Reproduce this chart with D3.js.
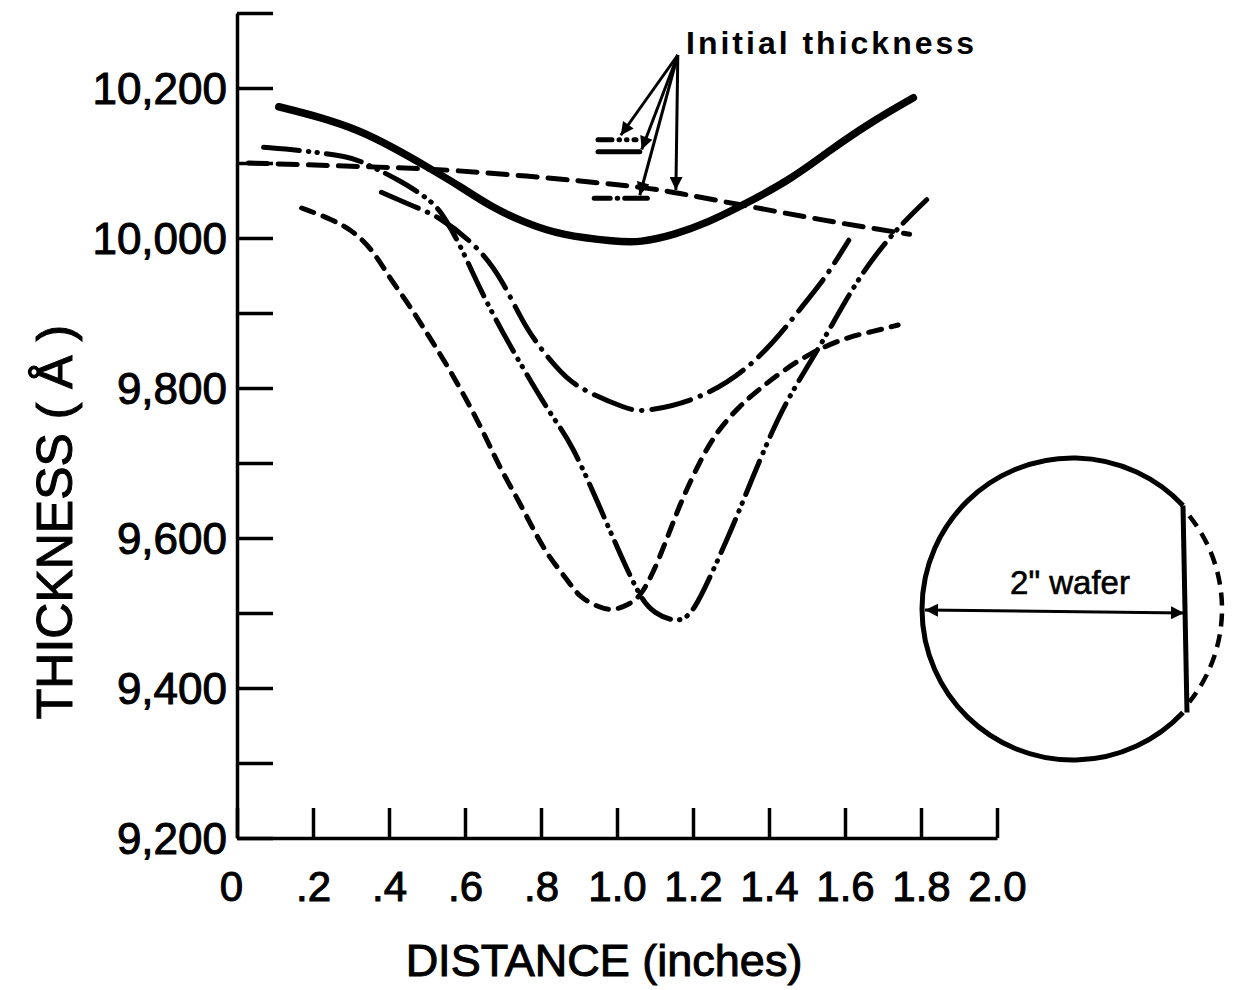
<!DOCTYPE html>
<html>
<head>
<meta charset="utf-8">
<script src="https://cdn.jsdelivr.net/npm/d3@7"></script>
<style>
  body { margin: 0; background: #fff; }
  svg { display: block; font-family: "Liberation Sans", Arial, sans-serif; }
</style>
</head>
<body>
<div id="chart"></div>
<script>
// [distance (inches), thickness (Å)]
var solidCurve = [[0.11,10175],[0.22,10161],[0.32,10144],[0.41,10121],[0.50,10095],[0.59,10068],
  [0.67,10041],[0.76,10020],[0.85,10004],[1.00,9995],[1.06,9994],[1.15,10004],[1.24,10021],
  [1.32,10041],[1.455,10077],[1.56,10117],[1.67,10155],[1.78,10187]];
var longDashCurve = [[0.03,10100],[0.41,10094],[0.56,10091],[0.85,10079],[1.08,10067],[1.16,10060],
  [1.37,10040],[1.54,10024],[1.67,10013],[1.77,10005]];
var dashCurve = [[0.17,10040],[0.25,10025],[0.31,10008],[0.36,9982],[0.40,9948],[0.45,9913],
  [0.49,9881],[0.54,9841],[0.595,9793],[0.65,9740],[0.69,9695],[0.74,9651],[0.78,9611],
  [0.82,9575],[0.87,9544],[0.90,9521],[0.955,9507],[0.99,9503],[1.03,9511],[1.06,9521],
  [1.095,9553],[1.13,9597],[1.17,9651],[1.22,9704],[1.26,9740],[1.32,9775],[1.38,9801],
  [1.44,9824],[1.51,9847],[1.60,9867],[1.67,9875],[1.74,9884]];
var dashDotCurve = [[0.38,10061],[0.47,10041],[0.53,10029],[0.63,9991],[0.70,9944],[0.76,9877],
  [0.845,9824],[0.895,9800],[1.03,9771],[1.07,9768],[1.22,9784],[1.37,9833],[1.50,9917],
  [1.55,9948],[1.61,9997]];
var dashDotDotCurve = [[0.07,10121],[0.17,10117],[0.30,10108],[0.33,10101],[0.43,10077],
  [0.52,10047],[0.55,10024],[0.59,9988],[0.64,9931],[0.70,9873],[0.76,9820],[0.83,9761],
  [0.88,9727],[0.955,9641],[1.00,9588],[1.06,9521],[1.095,9500],[1.16,9486],[1.20,9500],
  [1.245,9548],[1.305,9615],[1.375,9704],[1.445,9784],[1.535,9855],[1.63,9944],[1.725,10007],
  [1.815,10051]];

// initial thickness marks: [x start, x end, thickness]
var initialDashDotDot = [0.95, 1.05, 10131];
var initialSolid = [0.95, 1.06, 10115];
var initialDashDot = [0.94, 1.08, 10053];
// arrow from the label to each mark: [x, thickness]
var arrowFrom = [1.16, 10244];
var arrowTips = [[1.01, 10137], [1.065, 10118], [1.06, 10057], [1.155, 10064]];

var yTicks = d3.range(9200, 10301, 100);
var xTicks = [0, 0.2, 0.4, 0.6, 0.8, 1.0, 1.2, 1.4, 1.6, 1.8, 2.0];

var svg = d3.select("#chart").append("svg")
    .attr("width", 1240)
    .attr("height", 990);

var x = d3.scaleLinear().domain([0, 2]).range([237, 997]);
var y = d3.scaleLinear().domain([9200, 10300]).range([838, 13]);

var defs = svg.append("defs");
defs.append("marker")
    .attr("id", "head")
    .attr("viewBox", "0 -5 10 10")
    .attr("refX", 10).attr("refY", 0)
    .attr("markerWidth", 20).attr("markerHeight", 13)
    .attr("markerUnits", "userSpaceOnUse")
    .attr("orient", "auto-start-reverse")
  .append("path")
    .attr("d", "M0,-5L10,0L0,5Z")
    .attr("fill", "#000");

// axes
var yAxis = d3.axisLeft(y)
    .tickValues(yTicks)
    .tickSize(-36)
    .tickSizeOuter(0)
    .tickPadding(10)
    .tickFormat(function (d) { return d % 200 === 0 ? d3.format(",")(d) : ""; });

var gy = svg.append("g")
    .attr("transform", "translate(237,0)")
    .call(yAxis);

var xAxis = d3.axisBottom(x)
    .tickValues(xTicks)
    .tickSize(-30)
    .tickSizeOuter(0)
    .tickPadding(33)
    .tickFormat(function (d) {
      if (d === 0) return "0";
      if (d < 1) return d3.format(".1f")(d).slice(1);
      return d3.format(".1f")(d);
    });

var gx = svg.append("g")
    .attr("transform", "translate(0,838)")
    .call(xAxis);

[gx, gy].forEach(function (g) {
  g.attr("font-family", null).attr("font-size", null);
  g.select(".domain").attr("stroke-width", 3.5);
  g.selectAll(".tick line").attr("stroke-width", 3.5);
  g.selectAll("text").attr("fill", "#000").attr("stroke", "#000").attr("stroke-width", 1);
});
gy.selectAll("text").style("font-size", "44px").attr("dy", "0.36em");
gx.selectAll("text").style("font-size", "42px");
gx.selectAll(".tick").filter(function (d) { return d === 0; }).select("text").attr("x", -6);

// axis titles
svg.append("text")
    .attr("transform", "translate(72,522) rotate(-90)")
    .attr("text-anchor", "middle")
    .attr("stroke", "#000").attr("stroke-width", 1)
    .style("font-size", "50px")
    .text("THICKNESS ( Å )");

svg.append("text")
    .attr("x", 604)
    .attr("y", 976)
    .attr("text-anchor", "middle")
    .attr("stroke", "#000").attr("stroke-width", 1)
    .style("font-size", "45px")
    .text("DISTANCE (inches)");

// curves
var line = d3.line()
    .x(function (d) { return x(d[0]); })
    .y(function (d) { return y(d[1]); })
    .curve(d3.curveBasis);

function drawCurve(data, width, dash) {
  svg.append("path")
      .datum(data)
      .attr("d", line)
      .attr("fill", "none")
      .attr("stroke", "#000")
      .attr("stroke-width", width)
      .attr("stroke-linecap", "round")
      .attr("stroke-dasharray", dash);
}

drawCurve(longDashCurve, 5, "19,11");
drawCurve(dashCurve, 5, "13,10");
drawCurve(dashDotCurve, 5, "40,10,0.5,10");
drawCurve(dashDotDotCurve, 5, "36,9,0.5,8,0.5,9");
drawCurve(solidCurve, 7.5, null);

// initial thickness marks
function drawMark(m, dash) {
  svg.append("line")
      .attr("x1", x(m[0])).attr("x2", x(m[1]))
      .attr("y1", y(m[2])).attr("y2", y(m[2]))
      .attr("stroke", "#000")
      .attr("stroke-width", 5)
      .attr("stroke-linecap", "round")
      .attr("stroke-dasharray", dash);
}
drawMark(initialDashDotDot, "14,7,0.5,7,0.5,7,20");
drawMark(initialSolid, null);
drawMark(initialDashDot, "16,7,0.5,7,30");

svg.append("g")
  .selectAll("line")
  .data(arrowTips)
  .enter()
  .append("line")
    .attr("x1", x(arrowFrom[0]))
    .attr("y1", y(arrowFrom[1]))
    .attr("x2", function (d) { return x(d[0]); })
    .attr("y2", function (d) { return y(d[1]); })
    .attr("stroke", "#000")
    .attr("stroke-width", 3)
    .attr("marker-end", "url(#head)");

svg.append("text")
    .attr("x", 686)
    .attr("y", 54)
    .style("font-size", "32px")
    .style("font-weight", "bold")
    .style("letter-spacing", "3px")
    .text("Initial thickness");

// wafer inset (flat cut on the right, removed part dashed)
var cx = 1073, cy = 609, r = 151;
var cut = Math.acos(110 / r); // half-angle of the chord seen from the centre
var inset = svg.append("g").attr("transform", "translate(" + cx + "," + cy + ")");

var big = d3.path();
big.arc(0, 0, r, cut, 2 * Math.PI - cut, false);
inset.append("path")
    .attr("d", big.toString())
    .attr("fill", "none")
    .attr("stroke", "#000")
    .attr("stroke-width", 5);

var small = d3.path();
small.arc(0, 0, r - 2, -cut + 0.08, cut - 0.08, false);
inset.append("path")
    .attr("d", small.toString())
    .attr("fill", "none")
    .attr("stroke", "#000")
    .attr("stroke-width", 4.5)
    .attr("stroke-dasharray", "13,8");

var chordY = Math.sqrt(r * r - 110 * 110);
inset.append("line")
    .attr("x1", 110).attr("y1", -chordY)
    .attr("x2", 114).attr("y2", chordY)
    .attr("stroke", "#000")
    .attr("stroke-width", 5);

inset.append("line")
    .attr("x1", -r + 3).attr("y1", 1)
    .attr("x2", 111).attr("y2", 4)
    .attr("stroke", "#000")
    .attr("stroke-width", 3)
    .attr("marker-start", "url(#head)")
    .attr("marker-end", "url(#head)");

inset.append("text")
    .attr("x", -3)
    .attr("y", -15)
    .attr("text-anchor", "middle")
    .attr("stroke", "#000").attr("stroke-width", 0.6)
    .style("font-size", "33px")
    .text("2\u02BA wafer");
</script>
</body>
</html>
